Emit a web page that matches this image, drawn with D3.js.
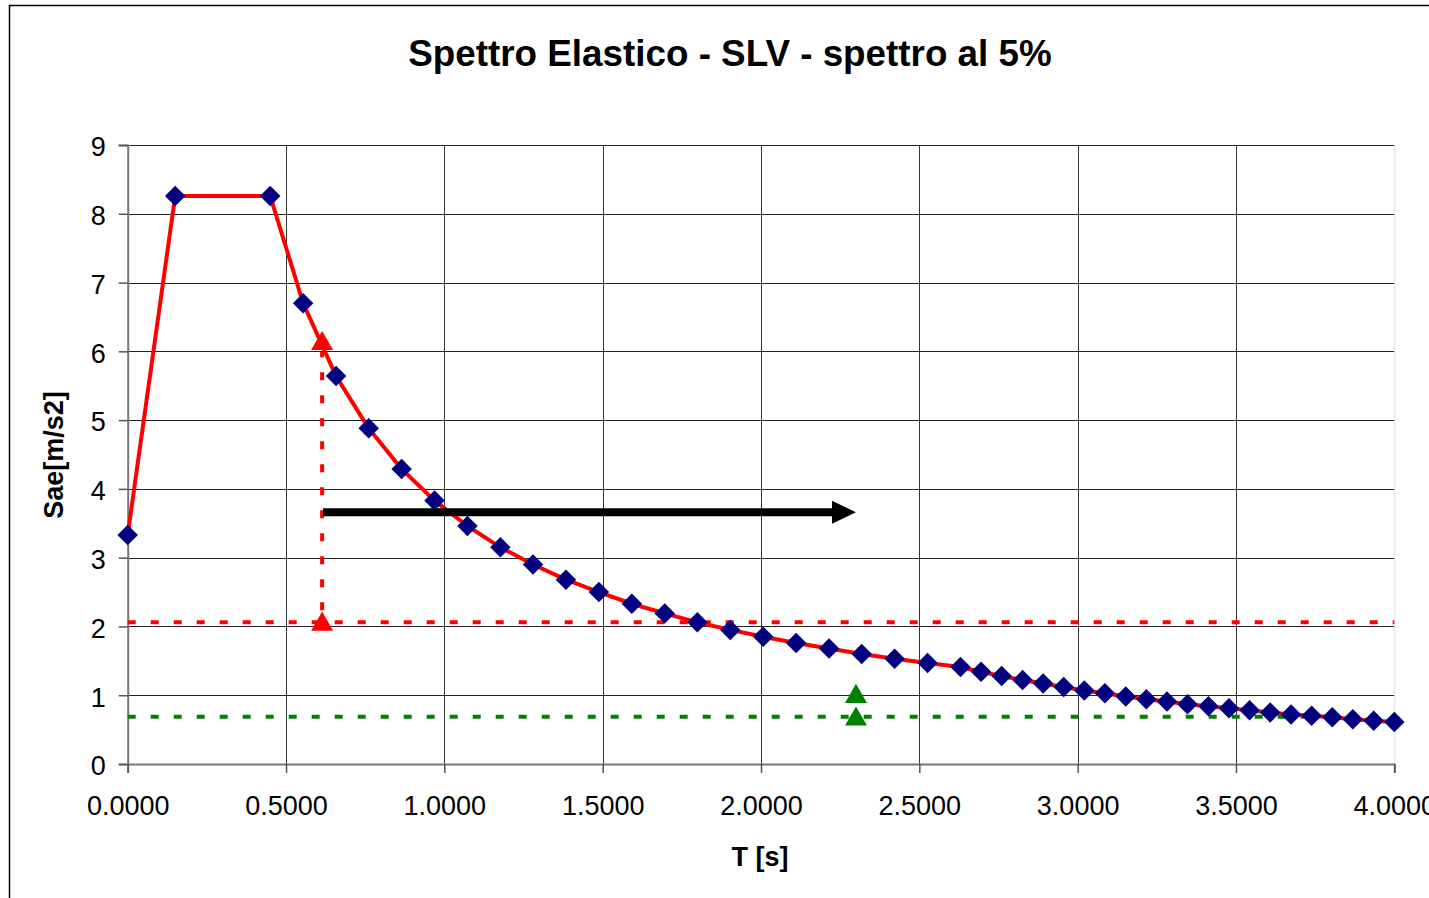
<!DOCTYPE html>
<html>
<head>
<meta charset="utf-8">
<script src="https://cdn.jsdelivr.net/npm/d3@7"></script>
<style>
  body { margin: 0; background: #fff; }
  text { font-family: "Liberation Sans", Arial, sans-serif; }
</style>
</head>
<body>
<div id="chart"></div>
<script>
// dati
const periodi = [0, 0.15, 0.45,
  0.554, 0.658, 0.761, 0.865, 0.969, 1.073, 1.177, 1.280, 1.384, 1.488, 1.592,
  1.696, 1.799, 1.903, 2.007, 2.111, 2.215, 2.318, 2.422, 2.526, 2.630,
  2.695, 2.760, 2.826, 2.891, 2.956, 3.021, 3.086, 3.152, 3.217, 3.282, 3.347,
  3.413, 3.478, 3.543, 3.608, 3.674, 3.739, 3.804, 3.869, 3.935, 4.000];
const sae = [3.33, 8.26, 8.26,
  6.70, 5.64, 4.88, 4.29, 3.83, 3.46, 3.15, 2.90, 2.68, 2.50, 2.33,
  2.19, 2.06, 1.95, 1.85, 1.76, 1.68, 1.60, 1.53, 1.47, 1.41,
  1.34, 1.28, 1.22, 1.17, 1.12, 1.07, 1.03, 0.98, 0.94, 0.91, 0.87,
  0.84, 0.81, 0.78, 0.75, 0.72, 0.70, 0.68, 0.65, 0.63, 0.61];

// annotazioni
const puntiRossi = [[0.614, 6.14], [0.614, 2.06]];
const puntiVerdi = [[2.30, 1.01], [2.30, 0.68]];
const livelloRosso = 2.06;
const livelloVerde = 0.687;
const freccia = [[0.617, 3.66], [2.30, 3.66]];

const xTicks = [0, 0.5, 1, 1.5, 2, 2.5, 3, 3.5, 4];
const yTicks = [0, 1, 2, 3, 4, 5, 6, 7, 8, 9];

const W = 1429, H = 898;
const pLeft = 127.7, pRight = 1394.3, pTop = 145, pBottom = 764;

const svg = d3.select("#chart").append("svg")
  .attr("width", W).attr("height", H);

// cornice del grafico
svg.append("rect")
  .attr("x", 9.5).attr("y", 5.5)
  .attr("width", 1440).attr("height", 910)
  .attr("fill", "none").attr("stroke", "#000").attr("stroke-width", 1.5);

const x = d3.scaleLinear().domain([0, 4]).range([pLeft, pRight]);
const y = d3.scaleLinear().domain([0, 9]).range([pBottom, pTop]);

// griglia
svg.append("g").selectAll("line").data(yTicks.slice(1)).join("line")
  .attr("x1", pLeft).attr("x2", pRight)
  .attr("y1", d => Math.round(y(d)) + 0.5).attr("y2", d => Math.round(y(d)) + 0.5)
  .attr("stroke", "#222").attr("stroke-width", 1);
svg.append("g").selectAll("line").data(xTicks.slice(1, -1)).join("line")
  .attr("x1", d => Math.round(x(d)) + 0.5).attr("x2", d => Math.round(x(d)) + 0.5)
  .attr("y1", pTop).attr("y2", pBottom)
  .attr("stroke", "#333").attr("stroke-width", 1);
svg.append("line")
  .attr("x1", pRight + 0.5).attr("x2", pRight + 0.5).attr("y1", pTop).attr("y2", pBottom)
  .attr("stroke", "#ddd").attr("stroke-width", 1);

// assi
const yAxis = svg.append("g")
  .attr("transform", `translate(${pLeft},0)`)
  .call(d3.axisLeft(y).tickValues(yTicks).tickSize(9).tickPadding(13).tickFormat(d3.format("d")));
const xAxis = svg.append("g")
  .attr("transform", `translate(0,${pBottom})`)
  .call(d3.axisBottom(x).tickValues(xTicks).tickSize(9).tickPadding(23).tickFormat(d3.format(".4f")));
[yAxis, xAxis].forEach(a => {
  a.select(".domain").attr("stroke", "#777").attr("stroke-width", 2);
  a.selectAll(".tick line").attr("stroke", "#555").attr("stroke-width", 1.5);
  a.selectAll("text").attr("fill", "#000").style("font-size", "27px")
    .style("font-family", '"Liberation Sans", Arial, sans-serif');
});
yAxis.selectAll("text").attr("dy", "0.4em");

// linee tratteggiate orizzontali
svg.append("line")
  .attr("x1", pLeft).attr("x2", pRight)
  .attr("y1", y(livelloRosso)).attr("y2", y(livelloRosso))
  .attr("stroke", "#ff0000").attr("stroke-width", 4).attr("stroke-dasharray", "8,15");
svg.append("line")
  .attr("x1", pLeft).attr("x2", pRight)
  .attr("y1", y(livelloVerde)).attr("y2", y(livelloVerde))
  .attr("stroke", "#008000").attr("stroke-width", 4).attr("stroke-dasharray", "8,15");

// verticale tratteggiata rossa
svg.append("line")
  .attr("x1", x(puntiRossi[0][0])).attr("x2", x(puntiRossi[1][0]))
  .attr("y1", y(puntiRossi[1][1]) - 12).attr("y2", y(puntiRossi[0][1]) + 10)
  .attr("stroke", "#ff0000").attr("stroke-width", 4).attr("stroke-dasharray", "8,15");

// spettro
const dati = periodi.map((t, i) => ({ t: t, v: sae[i] }));
svg.append("path")
  .datum(dati)
  .attr("fill", "none")
  .attr("stroke", "#ff0000")
  .attr("stroke-width", 4)
  .attr("stroke-linejoin", "round")
  .attr("d", d3.line().x(d => x(d.t)).y(d => y(d.v)));

const diamante = d3.symbol().type(d3.symbolSquare).size(210);
svg.append("g").selectAll("path").data(dati).join("path")
  .attr("d", diamante)
  .attr("transform", d => `translate(${x(d.t)},${y(d.v)}) rotate(45)`)
  .attr("fill", "#000080");

// triangoli
const triangolo = d3.symbol().type(d3.symbolTriangle).size(210);
svg.append("g").selectAll("path").data(puntiRossi).join("path")
  .attr("d", triangolo)
  .attr("transform", d => `translate(${x(d[0])},${y(d[1]) + 2})`)
  .attr("fill", "#ff0000");
svg.append("g").selectAll("path").data(puntiVerdi).join("path")
  .attr("d", triangolo)
  .attr("transform", d => `translate(${x(d[0])},${y(d[1]) + 2})`)
  .attr("fill", "#008000");

// freccia
const fx0 = x(freccia[0][0]), fx1 = x(freccia[1][0]), fy = y(freccia[0][1]);
svg.append("line")
  .attr("x1", fx0).attr("y1", fy)
  .attr("x2", fx1 - 20).attr("y2", fy)
  .attr("stroke", "#000").attr("stroke-width", 8);
svg.append("path")
  .attr("d", `M${fx1 - 24},${fy - 11.5} L${fx1},${fy} L${fx1 - 24},${fy + 11.5} Z`)
  .attr("fill", "#000");

// titoli
svg.append("text")
  .attr("x", 730).attr("y", 66)
  .attr("text-anchor", "middle")
  .style("font-size", "36.8px").style("font-weight", "bold")
  .text("Spettro Elastico - SLV - spettro al 5%");
svg.append("text")
  .attr("x", 760).attr("y", 866)
  .attr("text-anchor", "middle")
  .style("font-size", "27px").style("font-weight", "bold")
  .text("T [s]");
svg.append("text")
  .attr("transform", "translate(63,455) rotate(-90)")
  .attr("text-anchor", "middle")
  .style("font-size", "27px").style("font-weight", "bold")
  .text("Sae[m/s2]");
</script>
</body>
</html>
